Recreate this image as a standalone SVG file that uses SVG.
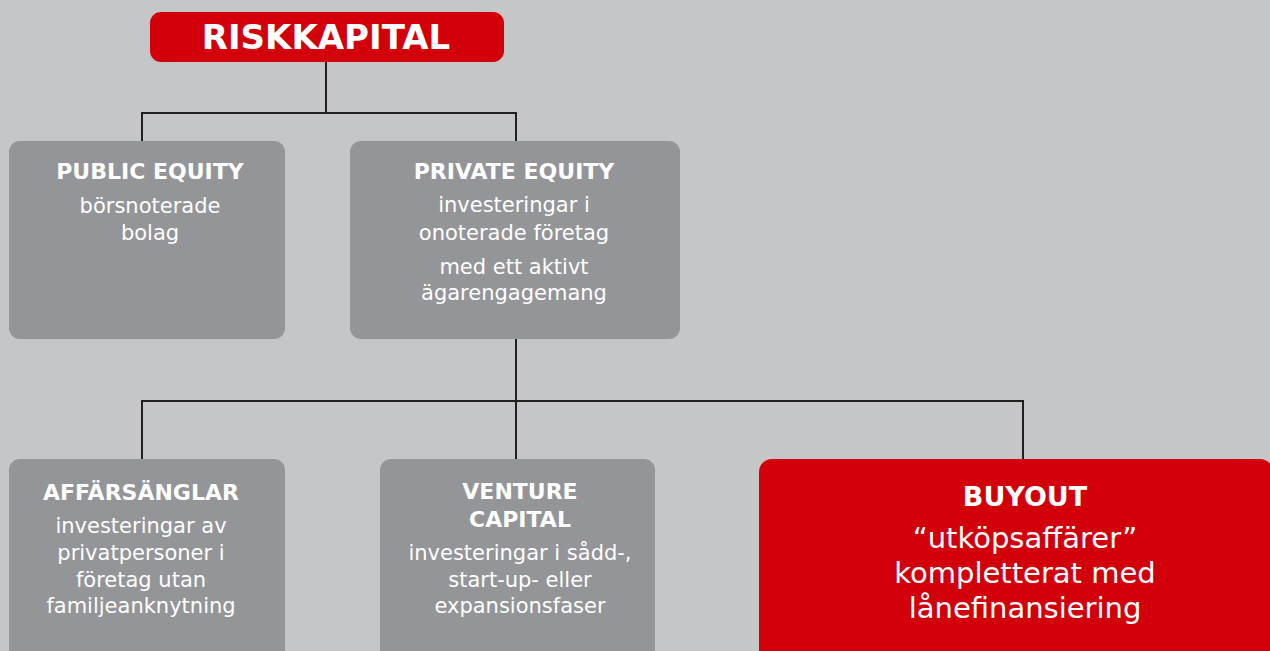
<svg xmlns="http://www.w3.org/2000/svg" width="1270" height="651" viewBox="0 0 1270 651">
<style>
.bg{fill:#c5c6c8}
.red{fill:#d2000b}
.gray{fill:#939598}
.t{font-family:"DejaVu Sans","Verdana",sans-serif;fill:#ffffff;text-anchor:middle}
.h{font-weight:bold;font-size:22px}
.b{font-size:21px}
.conn{fill:none;stroke:#231f20;stroke-width:2}
</style>
<rect class="bg" x="0" y="0" width="1270" height="651"/>
<g id="connectors">
<path class="conn" d="M326 62 V113 M142 141 V113 H516 V141"/>
<path class="conn" d="M516 339 V401 M142 459 V401 H1023 V459 M516 401 V459"/>
</g>
<g id="riskkapital">
<rect class="red" x="150" y="12" width="354" height="50" rx="11"/>
<text class="t" x="326" y="49" font-weight="bold" font-size="34">RISKKAPITAL</text>
</g>
<g id="public-equity">
<rect class="gray" x="9" y="141" width="276" height="198" rx="11"/>
<text class="t h" x="150" y="179">PUBLIC EQUITY</text>
<text class="t b" x="150" y="213">börsnoterade</text>
<text class="t b" x="150" y="240">bolag</text>
</g>
<g id="private-equity">
<rect class="gray" x="350" y="141" width="330" height="198" rx="11"/>
<text class="t h" x="514" y="179">PRIVATE EQUITY</text>
<text class="t b" x="514" y="212">investeringar i</text>
<text class="t b" x="514" y="240">onoterade företag</text>
<text class="t b" x="514" y="274">med ett aktivt</text>
<text class="t b" x="514" y="300">ägarengagemang</text>
</g>
<g id="affarsanglar">
<rect class="gray" x="9" y="459" width="276" height="230" rx="11"/>
<text class="t h" x="141" y="500">AFFÄRSÄNGLAR</text>
<text class="t b" x="141" y="533">investeringar av</text>
<text class="t b" x="141" y="560">privatpersoner i</text>
<text class="t b" x="141" y="587">företag utan</text>
<text class="t b" x="141" y="613">familjeanknytning</text>
</g>
<g id="venture-capital">
<rect class="gray" x="380" y="459" width="275" height="230" rx="11"/>
<text class="t h" x="520" y="499">VENTURE</text>
<text class="t h" x="520" y="527">CAPITAL</text>
<text class="t b" x="520" y="560">investeringar i sådd-,</text>
<text class="t b" x="520" y="587">start-up- eller</text>
<text class="t b" x="520" y="613">expansionsfaser</text>
</g>
<g id="buyout">
<rect class="red" x="759" y="459" width="514" height="230" rx="13"/>
<text class="t" x="1025" y="506" font-weight="bold" font-size="27">BUYOUT</text>
<text class="t" x="1025" y="548" font-size="29">“utköpsaffärer”</text>
<text class="t" x="1025" y="583" font-size="29">kompletterat med</text>
<text class="t" x="1025" y="618" font-size="29">lånefinansiering</text>
</g>
</svg>
